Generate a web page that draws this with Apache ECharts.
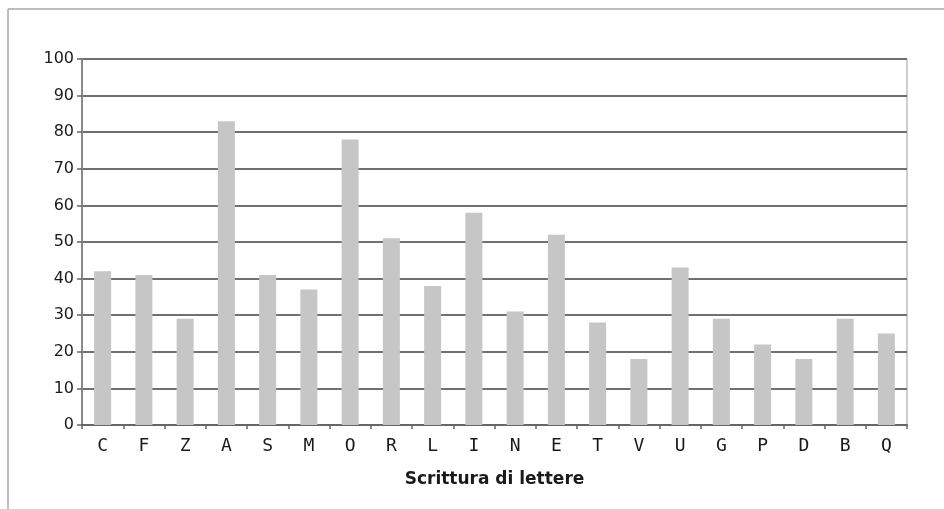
<!DOCTYPE html>
<html>
<head>
<meta charset="utf-8">
<script src="https://cdn.jsdelivr.net/npm/echarts@6/dist/echarts.min.js"></script>
<style>
  html, body { margin: 0; padding: 0; background: #ffffff; }
  #chart { width: 944px; height: 509px; }
</style>
</head>
<body>
<div id="chart"></div>
<script>
// Letters in the order they are shown along the x axis
const letters = ['C','F','Z','A','S','M','O','R','L','I','N','E','T','V','U','G','P','D','B','Q'];
// Score for each letter
const scores = [42, 41, 29, 83, 41, 37, 78, 51, 38, 58, 31, 52, 28, 18, 43, 29, 22, 18, 29, 25];
// Value axis settings
const yMin = 0;
const yMax = 100;
const yStep = 10;
const xTitle = 'Scrittura di lettere';

const chart = echarts.init(document.getElementById('chart'), null, { renderer: 'canvas' });

chart.setOption({
  animation: false,
  backgroundColor: '#ffffff',
  grid: { left: 82, right: 37, top: 59, bottom: 84, show: true, borderColor: '#a0a0a0', borderWidth: 1 },
  graphic: [
    // frame around the figure (top and left edges)
    { type: 'line', shape: { x1: 8, y1: 9, x2: 944, y2: 9 }, style: { stroke: '#a8a8a8', lineWidth: 1.5 } },
    { type: 'line', shape: { x1: 8, y1: 9, x2: 8, y2: 509 }, style: { stroke: '#a8a8a8', lineWidth: 1.5 } }
  ],
  xAxis: {
    type: 'category',
    data: letters,
    name: xTitle,
    nameLocation: 'middle',
    nameGap: 46,
    nameTextStyle: { fontFamily: 'DejaVu Sans', fontWeight: 'bold', fontSize: 17, color: '#1a1a1a' },
    axisLine: { lineStyle: { color: '#666', width: 2 } },
    axisTick: { show: true, length: 4, alignWithLabel: false, lineStyle: { color: '#666', width: 1.5 } },
    axisLabel: { fontFamily: 'DejaVu Sans Mono', fontSize: 18, color: '#1a1a1a', margin: 12 },
    splitLine: { show: false }
  },
  yAxis: {
    type: 'value',
    min: yMin,
    max: yMax,
    interval: yStep,
    axisLine: { show: true, lineStyle: { color: '#8a8a8a', width: 2 } },
    axisTick: { show: true, length: 5, lineStyle: { color: '#666', width: 1.5 } },
    axisLabel: { fontFamily: 'DejaVu Sans', fontSize: 16, color: '#1a1a1a', margin: 8 },
    splitLine: { show: true, lineStyle: { color: '#707070', width: 2 } }
  },
  series: [{
    type: 'bar',
    data: scores,
    barWidth: 17,
    itemStyle: { color: '#c6c6c6' },
    z: 3
  }]
});
</script>
</body>
</html>
